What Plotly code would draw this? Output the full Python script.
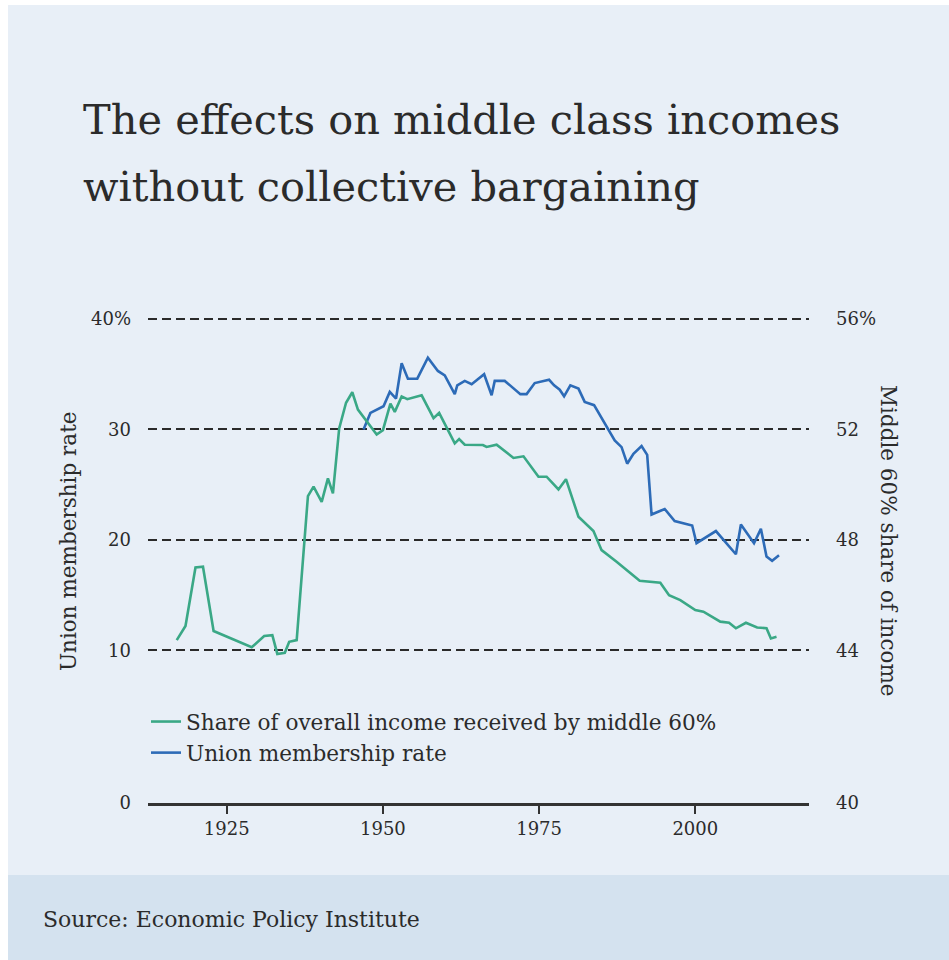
import plotly.graph_objects as go

# ---------------- data ----------------
share_years = [1917.0, 1918.4, 1920.0, 1921.2, 1922.9, 1929.0, 1931.0, 1932.3, 1933.1, 1934.3,
               1935.0, 1936.2, 1938.0, 1938.9, 1940.2, 1941.2, 1942.0, 1943.0, 1944.1, 1945.1,
               1946.0, 1949.0, 1950.0, 1951.2, 1951.9, 1953.0, 1953.9, 1956.2, 1958.1, 1959.0,
               1961.5, 1962.2, 1963.1, 1966.0, 1966.6, 1968.2, 1970.9, 1972.5, 1974.9, 1976.2,
               1978.1, 1979.3, 1981.3, 1983.7, 1985.0, 1987.4, 1991.1, 1994.4, 1995.8, 1997.6,
               2000.0, 2001.3, 2004.0, 2005.4, 2006.5, 2008.1, 2009.9, 2011.4, 2012.1, 2013.0]
share_values = [44.37, 44.88, 47.00, 47.03, 44.70, 44.11, 44.52, 44.55, 43.87, 43.91,
                44.31, 44.37, 49.59, 49.93, 49.38, 50.23, 49.69, 52.04, 52.97, 53.35,
                52.72, 51.82, 51.98, 52.94, 52.64, 53.20, 53.10, 53.24, 52.41, 52.60,
                51.50, 51.65, 51.45, 51.44, 51.37, 51.45, 50.97, 51.03, 50.29, 50.29,
                49.83, 50.20, 48.84, 48.32, 47.63, 47.21, 46.52, 46.45, 46.00, 45.82,
                45.46, 45.40, 45.04, 45.00, 44.80, 45.00, 44.83, 44.80, 44.43, 44.49]

union_years = [1946.9, 1948.0, 1950.1, 1951.1, 1952.1, 1953.0, 1954.0, 1955.5, 1957.2, 1958.8,
               1959.9, 1961.5, 1961.9, 1963.1, 1964.2, 1966.2, 1967.4, 1967.9, 1969.5, 1972.0,
               1973.0, 1974.3, 1976.6, 1977.4, 1978.3, 1979.0, 1980.0, 1981.3, 1982.3, 1983.8,
               1987.1, 1988.2, 1989.1, 1990.1, 1991.4, 1992.3, 1993.0, 1995.1, 1996.7, 1999.5,
               2000.2, 2003.3, 2006.5, 2007.3, 2009.4, 2010.5, 2011.4, 2012.3, 2013.4]
union_values = [30.0, 31.5, 32.1, 33.4, 32.8, 36.0, 34.6, 34.6, 36.5, 35.3,
                34.9, 33.2, 34.0, 34.4, 34.1, 35.0, 33.1, 34.4, 34.4, 33.2,
                33.2, 34.2, 34.5, 34.0, 33.6, 33.0, 34.0, 33.7, 32.5, 32.2,
                29.0, 28.4, 26.9, 27.8, 28.5, 27.7, 22.3, 22.8, 21.7, 21.3,
                19.7, 20.8, 18.7, 21.4, 19.7, 21.0, 18.5, 18.1, 18.6]

x_ticks = [1925, 1950, 1975, 2000]
left_tick_labels = ["0", "10", "20", "30", "40%"]
right_tick_labels = ["40", "44", "48", "52", "56%"]

title_lines = ["The effects on middle class incomes", "without collective bargaining"]
source_text = "Source: Economic Policy Institute"

# ---------------- styling ----------------
FONT = "DejaVu Serif, serif"
TEXT = "#2b2b2b"
GREEN = "#3aa886"
BLUE = "#2d6bb7"
BG = "#e8eff7"
FOOT = "#d4e2ef"

W, H = 949, 960
L, R, T, B = 148, 809, 310, 803   # plot area in pixels

LEFT_RANGE = [-3.83, 40.82]
RIGHT_RANGE = [38.47, 56.33]
X_RANGE = [1912.4, 2018.2]


def px_x(p):
    return (p - L) / (R - L)


def px_y(p):
    return (B - p) / (B - T)


fig = go.Figure()

fig.add_trace(go.Scatter(
    x=share_years, y=share_values, yaxis="y2", mode="lines",
    name="Share of overall income received by middle 60%",
    line=dict(color=GREEN, width=2.6),
))
fig.add_trace(go.Scatter(
    x=union_years, y=union_values, yaxis="y", mode="lines",
    name="Union membership rate",
    line=dict(color=BLUE, width=2.6),
))

shapes = [
    dict(type="rect", xref="paper", yref="paper", layer="below",
         x0=px_x(8), x1=px_x(W), y0=px_y(875), y1=px_y(5),
         fillcolor=BG, line=dict(width=0)),
    dict(type="rect", xref="paper", yref="paper", layer="below",
         x0=px_x(8), x1=px_x(W), y0=px_y(H), y1=px_y(875),
         fillcolor=FOOT, line=dict(width=0)),
]

annotations = [
    dict(text=title_lines[0], x=px_x(81), y=px_y(120), xref="paper", yref="paper",
         xanchor="left", yanchor="middle", showarrow=False,
         font=dict(family=FONT, size=41.5, color=TEXT)),
    dict(text=title_lines[1], x=px_x(81), y=px_y(187), xref="paper", yref="paper",
         xanchor="left", yanchor="middle", showarrow=False,
         font=dict(family=FONT, size=41.5, color=TEXT)),
    dict(text="Union membership rate", x=px_x(68), y=px_y(541), xref="paper", yref="paper",
         textangle=-90, xanchor="center", yanchor="middle", showarrow=False,
         font=dict(family=FONT, size=21.5, color=TEXT)),
    dict(text="Middle 60% share of income", x=px_x(889), y=px_y(541), xref="paper", yref="paper",
         textangle=90, xanchor="center", yanchor="middle", showarrow=False,
         font=dict(family=FONT, size=21.5, color=TEXT)),
    dict(text=source_text, x=px_x(41), y=px_y(919), xref="paper", yref="paper",
         xanchor="left", yanchor="middle", showarrow=False,
         font=dict(family=FONT, size=22, color=TEXT)),
]

left_tickvals = [LEFT_RANGE[0], 10, 20, 30, 40]
right_tickvals = [RIGHT_RANGE[0], 44, 48, 52, 56]

fig.update_layout(
    width=W, height=H,
    margin=dict(l=L, r=W - R, t=T, b=H - B),
    paper_bgcolor="white",
    plot_bgcolor="rgba(0,0,0,0)",
    font=dict(family=FONT, color=TEXT, size=18),
    showlegend=True,
    legend=dict(x=px_x(146), y=px_y(701), xanchor="left", yanchor="top",
                bgcolor="rgba(0,0,0,0)", font=dict(family=FONT, size=21.6, color=TEXT),
                itemwidth=30, tracegroupgap=0),
    xaxis=dict(range=X_RANGE, tickvals=x_ticks, ticks="outside", ticklen=8,
               tickwidth=2, tickcolor="#333", showline=True, linecolor="#333",
               linewidth=2.5, showgrid=False, zeroline=False,
               tickfont=dict(family=FONT, size=18, color=TEXT)),
    yaxis=dict(range=LEFT_RANGE, tickvals=left_tickvals, ticktext=left_tick_labels,
               showgrid=True, gridcolor="#2a2a2a", gridwidth=2, griddash="9px,5px",
               zeroline=False, showline=False, ticks="", ticklabelstandoff=16,
               tickfont=dict(family=FONT, size=18, color=TEXT)),
    yaxis2=dict(range=RIGHT_RANGE, tickvals=right_tickvals, ticktext=right_tick_labels,
                overlaying="y", side="right", showgrid=False, zeroline=False,
                showline=False, ticks="", ticklabelstandoff=26,
                tickfont=dict(family=FONT, size=18, color=TEXT)),
    shapes=shapes,
    annotations=annotations,
)

fig.write_html("out.html")
